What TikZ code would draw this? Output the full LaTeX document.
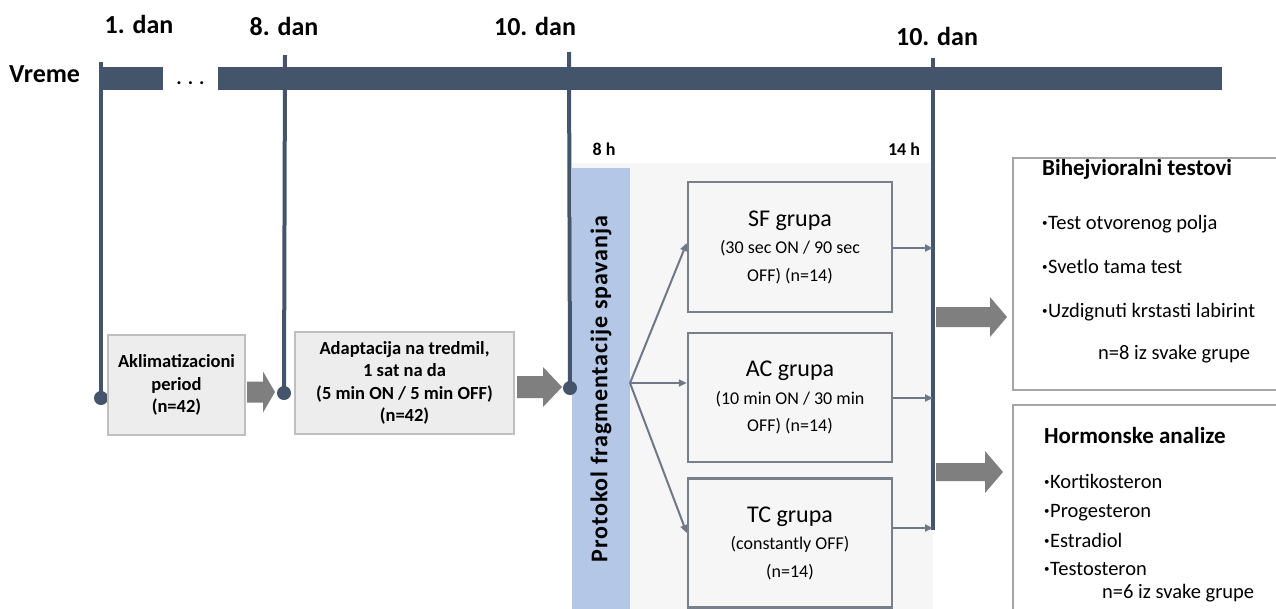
\documentclass[tikz,border=0pt]{standalone}
\usepackage{fontspec}
\setmainfont{Carlito}
\usetikzlibrary{arrows.meta,calc}
\definecolor{slate}{HTML}{44546A}
\definecolor{protblue}{HTML}{B4C7E7}
\definecolor{panelgray}{HTML}{F6F6F6}
\definecolor{stagefill}{HTML}{EDEDED}
\definecolor{stageedge}{HTML}{BFBFBF}
\definecolor{grpedge}{HTML}{77808C}
\definecolor{fangray}{HTML}{6E7888}
\definecolor{arrowgray}{HTML}{7F7F7F}
\definecolor{outedge}{HTML}{A6A6A6}
\newcommand\fs[2]{\fontsize{#1}{#2}\selectfont}
% small list bullet, set at mid x-height
\newcommand\bul{\raisebox{0.1em}{\fontsize{11}{11}\selectfont\textbullet}\kern0.5pt}
% block arrow: start x, tip x, centre y, half body, half head, head length
\newcommand\blockarrow[6]{%
  \fill[arrowgray] (#1,#3-#4) -- (#2-#6,#3-#4) -- (#2-#6,#3-#5) -- (#2,#3)
    -- (#2-#6,#3+#5) -- (#2-#6,#3+#4) -- (#1,#3+#4) -- cycle;}
\begin{document}
\begin{tikzpicture}[x=1pt,y=-1pt,
  daylabel/.style={font=\bfseries\fs{26}{30}, anchor=base, inner sep=0pt},
  hourlabel/.style={font=\bfseries\fs{18}{20}, anchor=base, inner sep=0pt},
  vline/.style={draw=slate, line width=4pt},
  dayDot/.style={circle, fill=slate, minimum size=14pt, inner sep=0pt},
  stagebox/.style={draw=stageedge, fill=stagefill, line width=2pt, align=center,
    inner sep=0pt, font=\bfseries\fs{18.5}{22.5}},
  grpbox/.style={draw=grpedge, fill=panelgray, line width=2.5pt, align=center,
    inner sep=0pt, minimum width=204pt, font=\fs{18}{27.5}},
  outbox/.style={draw=outedge, fill=white, line width=2.5pt, inner sep=0pt},
  outtitle/.style={font=\bfseries\fs{23}{26}, anchor=base west, inner sep=0pt},
  outitem/.style={font=\fs{20.5}{24}, anchor=base west, inner sep=0pt},
  fanarrow/.style={draw=fangray, line width=2pt,
    -{Triangle[length=8pt,width=7pt]}},
]
\useasboundingbox (0,0) rectangle (1276,608);
\fill[white] (0,0) rectangle (1276,608);

% time axis
\node[font=\bfseries\fs{26}{30}, anchor=base west, inner sep=0pt] (vreme) at (9,82) {Vreme};
\fill[slate] (100,67) rectangle (1222,90);
\fill[white] (163,67) rectangle (218,90);
\node[font=\bfseries\fs{20}{20}, anchor=base, inner sep=0pt] (gap) at (190.5,84) {. . .};

% day labels
\node[daylabel] (day1) at (139,33) {1. dan};
\node[daylabel] (day8) at (284,35) {8. dan};
\node[daylabel] (day10) at (535,35) {10. dan};
\node[daylabel] (day10b) at (937,45) {10. dan};

% sleep-fragmentation panel
\fill[panelgray] (572,163) rectangle (933,610);
\node[rotate=90, fill=protblue, minimum width=442pt, minimum height=58pt, inner sep=0pt,
  font=\bfseries\fs{24}{26}] (prot) at (601,389)
  {\addfontfeature{LetterSpace=4}Protokol fragmentacije spavanja};
\node[hourlabel] (h8) at (604,155) {8 h};
\node[hourlabel] (h14) at (904,155) {14 h};

% day markers
\coordinate (t1) at (101,62);
\coordinate (t8) at (285,55);
\coordinate (t10) at (569,52);
\coordinate (l4top) at (933,58);
\coordinate (l4bot) at (933,530);
\node[dayDot] (d1) at (101,398) {};
\node[dayDot] (d8) at (284,393) {};
\node[dayDot] (d10) at (570,388) {};
\draw[vline] (t1) -- (d1.center);
\draw[vline] (t8) -- (d8.center);
\draw[vline] (t10) -- (d10.center);
\draw[vline] (l4top) -- (l4bot);

% preparation stages
\node[stagebox, minimum width=137pt, minimum height=100pt] (akl) at (176.5,385)
  {Aklimatizacioni\\period\\(n=42)};
\node[stagebox, minimum width=219pt, minimum height=102pt] (adapt) at (404.5,383)
  {Adaptacija na tredmil,\\1 sat na da\\(5 min ON / 5 min OFF)\\(n=42)};
\blockarrow{247}{275}{392}{10.5}{20.5}{12}
\blockarrow{517}{562}{387}{11}{20}{19}

% groups
\node[grpbox, minimum height=130pt] (SF) at (790,247)
  {{\fs{24}{28}SF grupa}\\(30 sec ON / 90 sec\\OFF) (n=14)};
\node[grpbox, minimum height=129pt] (AC) at (790,397.5)
  {{\fs{24}{28}AC grupa}\\(10 min ON / 30 min\\OFF) (n=14)};
\node[grpbox, minimum height=129pt] (TC) at (790,543)
  {{\fs{24}{28}TC grupa}\\(constantly OFF)\\(n=14)};

\coordinate (fan) at (630,383);
\draw[fanarrow] (fan) -- ($(SF.west)+(0,-4)$);
\draw[fanarrow] (fan) -- ($(AC.west)+(0,-14.5)$);
\draw[fanarrow] (fan) -- ($(TC.west)+(0,-10)$);

\coordinate (s1) at ($(SF.east)+(0,1)$);
\coordinate (s2) at ($(AC.east)+(0,0.5)$);
\coordinate (s3) at ($(TC.east)+(0,-15)$);
\draw[fanarrow] (s1) -- (s1 -| l4top);
\draw[fanarrow] (s2) -- (s2 -| l4top);
\draw[fanarrow] (s3) -- (s3 -| l4top);

% outcomes
\blockarrow{936}{1007}{317}{10}{20}{17}
\blockarrow{936}{1003}{472}{9}{21}{18}

\node[outbox, minimum width=270pt, minimum height=232pt] (beh) at (1148,274) {};
\node[outtitle] (behT) at (1042,175) {Bihejvioralni testovi};
\node[outitem] (b1) at (1042,229) {\bul Test otvorenog polja};
\node[outitem] (b2) at (1042,273) {\bul Svetlo tama test};
\node[outitem] (b3) at (1042,317) {\bul Uzdignuti krstasti labirint};
\node[outitem] (b4) at (1098,359) {n=8 iz svake grupe};

\node[outbox, minimum width=270pt, minimum height=220pt] (hor) at (1148,515) {};
\node[outtitle] (horT) at (1044,443) {Hormonske analize};
\node[outitem] (h1) at (1044,488) {\bul Kortikosteron};
\node[outitem] (h2) at (1044,517) {\bul Progesteron};
\node[outitem] (h3) at (1044,547) {\bul Estradiol};
\node[outitem] (h4) at (1044,575) {\bul Testosteron};
\node[outitem] (h5) at (1102,598) {n=6 iz svake grupe};
\end{tikzpicture}
\end{document}
